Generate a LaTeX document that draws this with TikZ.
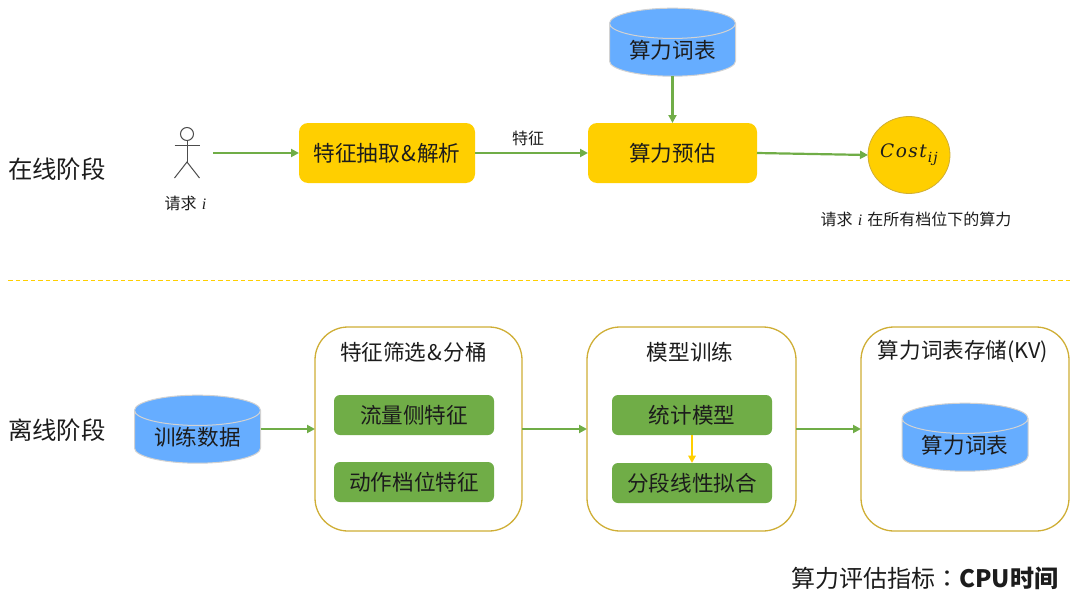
\documentclass[tikz,border=0pt]{standalone}
\usepackage{fontspec}
\setmainfont{Noto Sans CJK SC}
\newfontfamily\tcfont{Noto Sans CJK TC}
\newfontfamily\mathlike[LetterSpace=8]{DejaVu Serif}
\usetikzlibrary{arrows.meta,shapes.geometric}
\definecolor{boxyellow}{HTML}{FFCF00}
\definecolor{cylblue}{HTML}{66ADFF}
\definecolor{leafgreen}{HTML}{70AD47}
\definecolor{goldline}{HTML}{CFAE35}
\definecolor{rimgrey}{HTML}{D2D2D2}
\definecolor{inktext}{HTML}{1C1C1C}
\newcommand{\fs}[1]{\fontsize{#1}{#1}\selectfont}
\newcommand{\amp}{\hspace{1.2pt}\&\hspace{1.2pt}}
\newcommand{\ivar}{\hspace{1.5pt}\textit{\fontspec{Liberation Serif}i}\hspace{1.5pt}}
\tikzset{
  every node/.style={inner sep=0pt,outer sep=0pt,text=inktext},
  flow/.style={draw=leafgreen,line width=2.2pt,-{Triangle[length=8pt,width=8pt]}},
  flowy/.style={draw=boxyellow,line width=2.2pt,-{Triangle[length=7.5pt,width=7.5pt]}},
  yellowbox/.style={fill=boxyellow,rounded corners=9pt,minimum height=60pt,font=\fs{21.6}},
  greenbox/.style={fill=leafgreen,rounded corners=6pt,minimum width=160pt,minimum height=40pt,font=\fs{21.6}},
  groupbox/.style={draw=goldline,line width=1.3pt,fill=white,rounded corners=33pt,minimum height=204pt},
  dbcyl/.style={cylinder,shape border rotate=90,draw=rimgrey,line width=1pt,
    cylinder uses custom fill,cylinder body fill=cylblue,cylinder end fill=cylblue,
    aspect=0.35,minimum width=126pt,minimum height=68pt,font=\fs{21.6}},
  phase/.style={font=\fs{24.4}},
  heading/.style={font=\fs{21.6}},
  small/.style={font=\fs{16}},
  stick/.style={draw=black!70,line width=1pt}
}
\begin{document}
\begin{tikzpicture}[x=1pt,y=-1pt]
\useasboundingbox (0,0) rectangle (1080,597);
% phase labels
\node[phase] (online) at (57,169) {在线阶段};
\node[phase] (offline) at (57,430) {离线阶段};
% separator
\coordinate (sepL) at (8,280.5);
\coordinate (sepR) at (1072,280.5);
\draw[boxyellow,line width=1.2pt,dash pattern=on 4.5pt off 3pt] (sepL) -- (sepR);
% actor
\node[circle,stick,minimum size=13pt] (head) at (187,134) {};
\coordinate (armL) at (174.5,145);
\coordinate (armR) at (199.5,145);
\coordinate (hip) at (187,162);
\coordinate (footL) at (174.5,178);
\coordinate (footR) at (199.5,178);
\draw[stick] (head.south) -- (hip);
\draw[stick] (armL) -- (armR);
\draw[stick] (footL) -- (hip) -- (footR);
\node[small] (req) at (185.5,203) {请求 \ivar};
\coordinate (actorout) at (213,153);
% online row
\node[yellowbox,minimum width=176pt] (extract) at (387,153) {特征抽取\amp 解析};
\node[yellowbox,minimum width=169pt] (predict) at (672.5,153) {算力预估};
\node[dbcyl] (dict1) at (672.5,50) {\raisebox{2pt}{算力词表}};
\node[ellipse,draw=goldline,line width=0.8pt,fill=boxyellow,minimum width=82pt,minimum height=77pt] (cost) at (909,155)
  {\raisebox{-2pt}{\fs{18.5}\mathlike\itshape Cost\hspace{1pt}\raisebox{-5pt}{\fs{14}ij}}};
\node[small] (feat) at (528,138) {特征};
\node[small] (costlabel) at (916,219) {请求 \ivar{} 在所有档位下的算力};
\draw[flow] (actorout) -- (extract.west);
\draw[flow] (extract.east) -- (predict.west);
\draw[flow] (dict1.south) -- (predict.north);
\draw[flow] (predict.east) -- (cost.west);
% offline row
\node[dbcyl] (train) at (197.5,437) {训练数据};
\node[groupbox,minimum width=207pt] (g1) at (418.5,429) {};
\node[groupbox,minimum width=209pt] (g2) at (691.5,429) {};
\node[groupbox,minimum width=208pt] (g3) at (965,429) {};
\node[heading] (t1) at (413.5,352) {特征筛选\amp 分桶};
\node[heading] (t2) at (690,352) {模型训练};
\node[heading] (t3) at (963,351.5) {算力词表存储(KV)};
\node[greenbox] (g1a) at (414,415) {流量侧特征};
\node[greenbox] (g1b) at (414,482) {动作档位特征};
\node[greenbox] (g2a) at (692,415) {统计模型};
\node[greenbox] (g2b) at (692,483) {分段线性拟合};
\node[dbcyl] (dict2) at (965,445) {\raisebox{2pt}{算力词表}};
\draw[flow] (train.east |- g1.west) -- (g1.west);
\draw[flow] (g1.east) -- (g2.west);
\draw[flow] (g2.east) -- (g3.west);
\draw[flowy] (g2a.south) -- (g2b.north);
% footer
\node[anchor=east,font=\fs{24}] (metric) at (1058,578) {算力评估指标{\tcfont ：}\textbf{CPU时间}};
\end{tikzpicture}
\end{document}
